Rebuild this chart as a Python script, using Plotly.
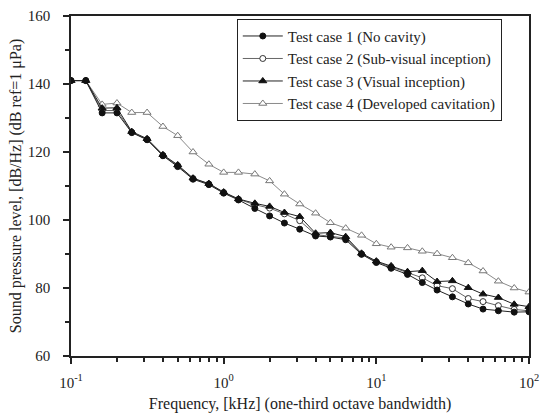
import plotly.graph_objects as go

# One-third octave band centre frequencies, kHz
freq_khz = [0.1, 0.125, 0.16, 0.2, 0.25, 0.315, 0.4, 0.5, 0.63, 0.8,
            1, 1.25, 1.6, 2, 2.5, 3.15, 4, 5, 6.3, 8,
            10, 12.5, 16, 20, 25, 31.5, 40, 50, 63, 80, 100]

# Sound pressure level, dB/Hz re 1 uPa
spl_case1 = [141, 141, 131.5, 131.5, 125.7, 123.6, 118.9, 115.7, 112.0, 110.4,
             107.9, 105.9, 103.4, 101.2, 99.1, 97.3, 95.3, 95.0, 94.2, 89.9,
             87.5, 85.8, 84.0, 81.6, 79.4, 77.4, 75.3, 73.8, 73.3, 72.9, 73.0]
spl_case2 = [141, 141, 132.2, 132.2, 125.8, 123.7, 119.0, 116.0, 112.2, 110.6,
             108.1, 106.1, 104.5, 103.5, 101.8, 99.8, 95.7, 95.1, 94.7, 90.0,
             87.7, 86.2, 84.4, 83.0, 80.7, 79.8, 76.9, 76.0, 74.8, 73.7, 73.3]
spl_case3 = [141, 141, 132.9, 133.0, 126.0, 123.9, 119.2, 116.2, 112.3, 110.7,
             108.2, 106.2, 104.9, 104.0, 102.2, 101.0, 96.1, 96.3, 95.1, 90.2,
             87.9, 86.5, 84.8, 85.1, 81.9, 82.1, 80.1, 78.2, 77.2, 75.2, 74.5]
spl_case4 = [141, 141, 134.0, 134.4, 131.6, 131.6, 127.5, 124.8, 120.0, 116.4,
             114.0, 114.0, 113.5, 111.5, 107.6, 104.7, 102.0, 99.2, 97.6, 95.5,
             93.0, 92.0, 91.8, 90.8, 90.1, 88.9, 87.4, 85.0, 82.0, 80.0, 78.8]

labels = ["Test case 1 (No cavity)",
          "Test case 2 (Sub-visual inception)",
          "Test case 3 (Visual inception)",
          "Test case 4 (Developed cavitation)"]

FONT = "Liberation Serif, Times New Roman, serif"
INK = "#222222"

fig = go.Figure()

styles = [
    # values, marker symbol, fill, outline, line colour, size, rank
    (spl_case4, "triangle-up", "white", "#777777", "#8a8a8a", 7, 4),
    (spl_case2, "circle", "white", "#333333", "#666666", 6, 2),
    (spl_case3, "triangle-up", "#111111", "#111111", "#222222", 7, 3),
    (spl_case1, "circle", "#111111", "#111111", "#222222", 6, 1),
]

for vals, sym, fill, edge, lcol, size, rank in styles:
    fig.add_trace(go.Scatter(
        x=freq_khz, y=vals, mode="lines+markers",
        name=labels[rank - 1], legendrank=rank,
        line=dict(color=lcol, width=1),
        marker=dict(symbol=sym, size=size, color=fill,
                    line=dict(color=edge, width=1)),
    ))

minor_x = [m * 10 ** e for e in (-1, 0, 1) for m in range(2, 10)]

fig.update_layout(
    width=549, height=416,
    margin=dict(l=71, r=20, t=16, b=60, autoexpand=False),
    paper_bgcolor="white", plot_bgcolor="white",
    font=dict(family=FONT, size=15, color=INK),
    showlegend=True,
    legend=dict(
        x=0.362, y=0.992, xanchor="left", yanchor="top",
        bordercolor=INK, borderwidth=1, bgcolor="white",
        font=dict(family=FONT, size=15, color=INK),
        tracegroupgap=0, itemwidth=40,
    ),
    xaxis=dict(
        type="log", range=[-1, 2], automargin=False,
        tickvals=[0.1, 1, 10, 100],
        ticktext=["10<sup>-1</sup>", "10<sup>0</sup>", "10<sup>1</sup>", "10<sup>2</sup>"],
        ticks="outside", ticklen=6, tickwidth=1.5, tickcolor=INK,
        minor=dict(tickmode="array", tickvals=minor_x, ticks="outside",
                   ticklen=4, tickwidth=1.5, tickcolor=INK),
        showline=True, linecolor=INK, linewidth=1.5, mirror=True,
        showgrid=False, zeroline=False, ticklabelstandoff=6,
        tickfont=dict(size=15),
        title=dict(text="Frequency, [kHz] (one-third octave bandwidth)",
                   font=dict(family=FONT, size=16), standoff=8),
    ),
    yaxis=dict(
        range=[60, 160], automargin=False,
        tickvals=[60, 80, 100, 120, 140, 160],
        ticks="outside", ticklen=6, tickwidth=1.5, tickcolor=INK,
        minor=dict(dtick=10, ticks="outside", ticklen=4, tickwidth=1.5,
                   tickcolor=INK),
        showline=True, linecolor=INK, linewidth=1.5, mirror=True,
        showgrid=False, zeroline=False, ticklabelstandoff=10,
        tickfont=dict(size=15),
        title=dict(text="Sound pressure level, [dB/Hz] (dB ref=1 \u03bcPa)",
                   font=dict(family=FONT, size=16), standoff=2),
    ),
)

fig.write_html("out.html")
